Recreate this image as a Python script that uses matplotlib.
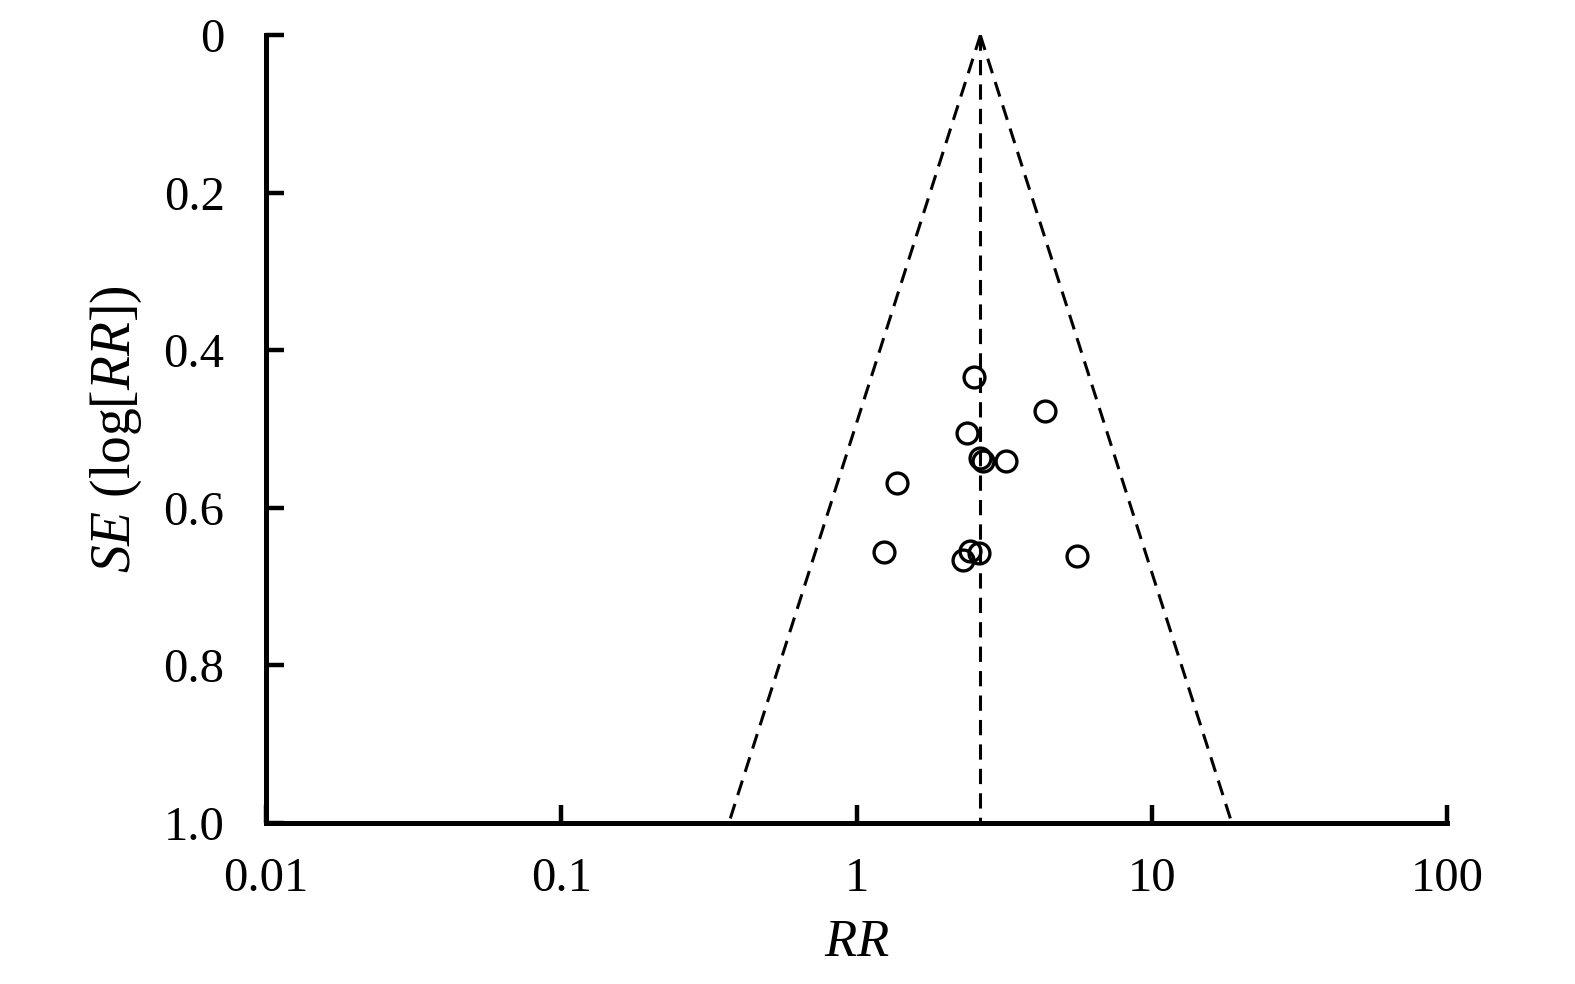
import numpy as np
import matplotlib
matplotlib.use("Agg")
import matplotlib.pyplot as plt

# Study estimates
rr = [2.50, 4.33, 2.37, 2.61, 2.68, 3.21, 1.37, 1.24, 2.28, 2.41, 2.59, 5.57]
se = [0.434, 0.477, 0.505, 0.537, 0.540, 0.540, 0.568, 0.656, 0.667, 0.655, 0.657, 0.661]
pooled_rr = 2.62

x_ticks = [0.01, 0.1, 1, 10, 100]
x_labels = ["0.01", "0.1", "1", "10", "100"]
y_ticks = [0, 0.2, 0.4, 0.6, 0.8, 1.0]
y_labels = ["0", "0.2", "0.4", "0.6", "0.8", "1.0"]

plt.rcParams["font.family"] = ["Liberation Serif", "DejaVu Serif"]
plt.rcParams["mathtext.fontset"] = "custom"
plt.rcParams["mathtext.rm"] = "Liberation Serif"
plt.rcParams["mathtext.it"] = "Liberation Serif:italic"

fig = plt.figure(figsize=(15.75, 9.84), dpi=100)
ax = fig.add_axes([0.169, 0.164, 0.750, 0.800])

# funnel: pooled line and 95% limits
se_line = np.array([0.0, 1.0])
lo = np.exp(np.log(pooled_rr) - 1.96 * se_line)
hi = np.exp(np.log(pooled_rr) + 1.96 * se_line)
dash = (0, (5, 3))
ax.plot(lo, se_line, color="black", lw=2.2, linestyle=dash)
ax.plot(hi, se_line, color="black", lw=2.2, linestyle=dash)
ax.plot([pooled_rr, pooled_rr], [0, 1.0], color="black", lw=2.2, linestyle=dash)

ax.plot(rr, se, linestyle="none", marker="o", markersize=15,
        markerfacecolor="none", markeredgecolor="black", markeredgewidth=2.4)

ax.set_xscale("log")
ax.set_xlim(0.01, 100)
ax.set_ylim(1.0, 0)
ax.set_xticks(x_ticks)
ax.set_xticklabels(x_labels)
ax.minorticks_off()
ax.set_yticks(y_ticks)
ax.set_yticklabels(y_labels)

for s in ["top", "right"]:
    ax.spines[s].set_visible(False)
for s in ["left", "bottom"]:
    ax.spines[s].set_linewidth(3.6)

ax.tick_params(axis="both", direction="in", length=13, width=3.2, labelsize=35)
ax.tick_params(axis="x", pad=25)
ax.tick_params(axis="y", pad=30)

ax.set_xlabel(r"$RR$", fontsize=38, labelpad=13)
ax.set_ylabel(r"$SE$ (log[$RR$])", fontsize=40, labelpad=14)

fig.savefig("out.png", dpi=100)
